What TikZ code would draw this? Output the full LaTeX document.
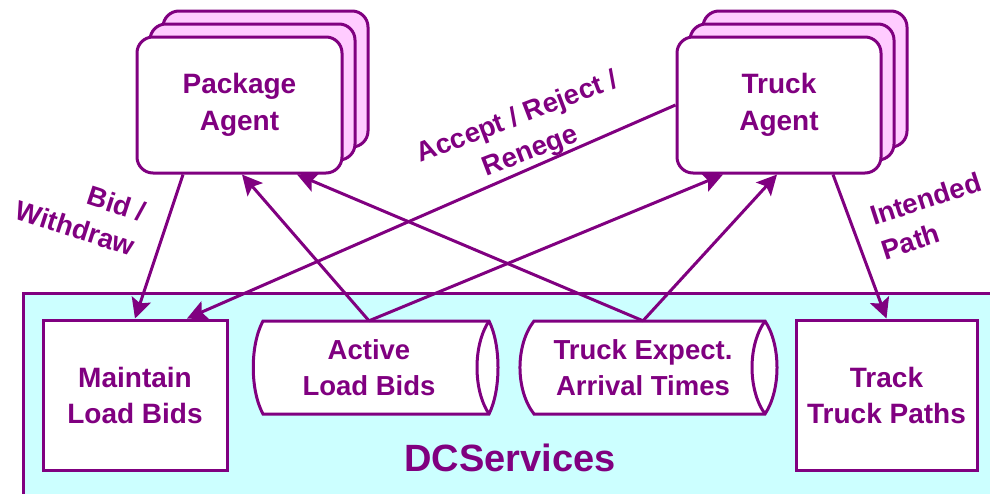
\documentclass[tikz,border=0pt]{standalone}
\usepackage{fontspec}
\setmainfont{Liberation Sans}
\usetikzlibrary{arrows.meta}
\definecolor{plum}{HTML}{800080}
\definecolor{pinkfill}{HTML}{FFCCFF}
\definecolor{cyanfill}{HTML}{CCFFFF}
\begin{document}
\begin{tikzpicture}[x=1pt,y=-1pt,
  lbl/.style={text=plum,font=\bfseries\fontsize{27.5}{36}\selectfont,align=center,inner sep=0pt},
  servicebox/.style={lbl,draw=plum,line width=3pt,fill=white},
  agentbox/.style={draw=plum,line width=3pt,rounded corners=16pt},
  storetext/.style={lbl,minimum height=93pt},
  storeline/.style={draw=plum,line width=3pt},
  conn/.style={draw=plum,line width=3pt,-{Stealth[length=20pt,width=20pt,inset=4pt]}}]

\useasboundingbox (0,0) rectangle (990,493);

% DCServices container (runs off the right and bottom edges)
\begin{scope}
  \clip (0,0) rectangle (990,493);
  \draw[plum,line width=3pt,fill=cyanfill] (23,293) rectangle (1010,520);
\end{scope}
\node[text=plum,font=\bfseries\fontsize{38}{44}\selectfont] (dcs) at (510,458) {DCServices};

% Agent stacks: two pink copies behind a white front box
\foreach \dx/\dy in {26/-26,13/-13}{
  \draw[agentbox,fill=pinkfill] (137+\dx,37+\dy) rectangle (342+\dx,173+\dy);
  \draw[agentbox,fill=pinkfill] (677+\dx,37+\dy) rectangle (881+\dx,173+\dy);
}
\node[agentbox,fill=white,lbl,minimum width=205pt,minimum height=136pt,
      font=\bfseries\fontsize{28}{37}\selectfont] (pa) at (239.5,105) {Package\\Agent};
\node[agentbox,fill=white,lbl,minimum width=204pt,minimum height=136pt,
      font=\bfseries\fontsize{28}{37}\selectfont] (ta) at (779,105) {Truck\\Agent};

% Service boxes
\node[servicebox,minimum width=184pt,minimum height=150pt,
      font=\bfseries\fontsize{28}{36}\selectfont] (mlb) at (135,395) {Maintain\\Load Bids};
\node[servicebox,minimum width=181pt,minimum height=150pt,
      font=\bfseries\fontsize{28}{36}\selectfont] (ttp) at (886.5,395) {Track\\Truck Paths};

% Data stores
\draw[storeline,fill=white] (263,321) -- (489,321)
  .. controls (501,345) and (501,390) .. (489,414) -- (263,414)
  .. controls (250,390) and (250,345) .. cycle;
\draw[storeline] (489,321) .. controls (473,345) and (473,390) .. (489,414);
\node[storetext] (alb) at (369,367.5) {Active\\Load Bids};

\draw[storeline,fill=white] (534,321) -- (765,321)
  .. controls (781,345) and (781,390) .. (765,414) -- (534,414)
  .. controls (515.3,390) and (515.3,345) .. cycle;
\draw[storeline] (765,321) .. controls (747.7,345) and (747.7,390) .. (765,414);
\node[storetext] (te) at (643,367.5) {Truck Expect.\\Arrival Times};

% Connectors
\draw[conn] ([xshift=-56.5pt]pa.south) -- (mlb.north);
\draw[conn] (ta.west) -- ([xshift=52pt]mlb.north);
\draw[conn] (alb.north) -- ([xshift=2.5pt]pa.south);
\draw[conn] (te.north) -- ([xshift=57.5pt]pa.south);
\draw[conn] (alb.north) -- ([xshift=-56pt]ta.south);
\draw[conn] (te.north) -- ([xshift=-2pt]ta.south);
\draw[conn] ([xshift=54pt]ta.south) -- (ttp.north);

% Connector labels
\node[lbl,rotate=-18,align=right] (bidlbl) at (81,211) {Bid /\\Withdraw};
\node[lbl,rotate=21] (acclbl) at (524,135) {Accept / Reject /\\Renege};
\node[lbl,rotate=18,align=left] (intlbl) at (931,216) {Intended\\Path};
\end{tikzpicture}
\end{document}
